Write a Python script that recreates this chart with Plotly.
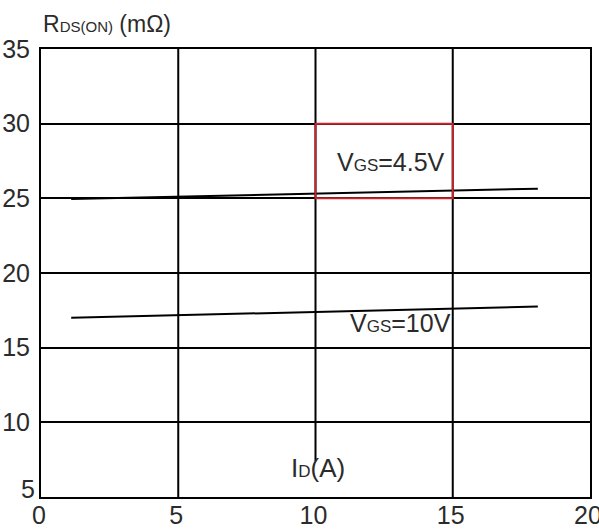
import plotly.graph_objects as go

# Drain current (A) and on-resistance (mOhm) for the two gate drives
id_a = [1.1, 18.1]
rds_vgs_4v5 = [24.95, 25.65]
rds_vgs_10v = [17.0, 17.75]

x_ticks = [0, 5, 10, 15, 20]
y_ticks = [5, 10, 15, 20, 25, 30, 35]

FONT = "Liberation Sans, Arial, sans-serif"
TXT = "#2b2b2b"

fig = go.Figure()
for ys in (rds_vgs_4v5, rds_vgs_10v):
    fig.add_trace(go.Scatter(x=id_a, y=ys, mode="lines",
                             line=dict(color="black", width=2),
                             showlegend=False, hoverinfo="skip"))

# vertical grid lines (the one at 10 A stops short of the axis label)
vgrid = [(5, 5), (10, 7.4), (15, 5)]
for gx, y0 in vgrid:
    fig.add_shape(type="line", x0=gx, x1=gx, y0=y0, y1=35,
                  line=dict(color="black", width=2), layer="below")

# highlight box around the 4.5 V label
fig.add_shape(type="rect", x0=10, x1=15, y0=25, y1=30,
              line=dict(color="#c4262c", width=2))

fig.add_annotation(x=10.7, y=27.4, xanchor="left", yanchor="middle", showarrow=False,
                   text='V<span style="font-size:17px">GS</span>=4.5V',
                   font=dict(family=FONT, size=25, color=TXT))
fig.add_annotation(x=11.2, y=16.65, xanchor="left", yanchor="middle", showarrow=False,
                   text='V<span style="font-size:17px">GS</span>=10V',
                   font=dict(family=FONT, size=25, color=TXT))
fig.add_annotation(x=10.1, y=6.95, xanchor="center", yanchor="middle", showarrow=False,
                   text='I<span style="font-size:17px">D</span>(A)',
                   font=dict(family=FONT, size=26, color=TXT))
fig.add_annotation(x=0.0, y=1.0, xref="paper", yref="paper", xanchor="left",
                   yanchor="bottom", yshift=10, showarrow=False,
                   text='R<span style="font-size:15px">DS(ON)</span> (mΩ)',
                   font=dict(family=FONT, size=23, color=TXT))

# the lowest y label sits raised above the x-axis corner
y_text = [str(v) for v in y_ticks]
y_text[0] = ""
fig.add_annotation(x=0, y=y_ticks[0], xref="paper", xanchor="right", yanchor="middle",
                   xshift=-4, yshift=8, showarrow=False, text=str(y_ticks[0]),
                   font=dict(family=FONT, size=25, color=TXT))

fig.update_xaxes(range=[0, 20], tickvals=x_ticks, showgrid=False, zeroline=False,
                 showline=True, linecolor="black", linewidth=2, mirror=True,
                 ticks="", automargin=False, ticklabelshift=-2,
                 ticklabelstandoff=-5, ticklabeloverflow="allow",
                 tickfont=dict(family=FONT, size=25, color=TXT))
fig.update_yaxes(range=[5, 35], tickvals=y_ticks, ticktext=y_text,
                 showgrid=True, gridcolor="black",
                 gridwidth=2, zeroline=False,
                 showline=True, linecolor="black", linewidth=2, mirror=True,
                 ticks="", ticklabelstandoff=4, automargin=False,
                 ticklabeloverflow="allow",
                 tickfont=dict(family=FONT, size=25, color=TXT))

fig.update_layout(width=599, height=531, margin=dict(l=41, r=9, t=49, b=34),
                  paper_bgcolor="white", plot_bgcolor="white")
fig.write_html("out.html")
